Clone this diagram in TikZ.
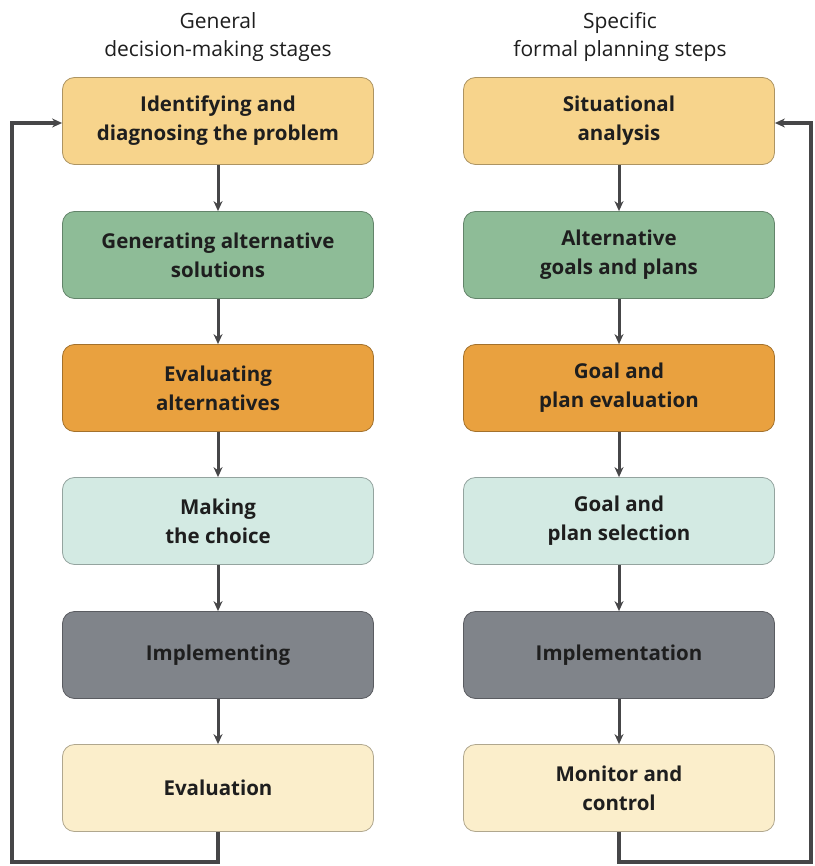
\documentclass[tikz,border=0pt]{standalone}
\usepackage{fontspec}
\setmainfont{Open Sans}
\usetikzlibrary{arrows.meta}
\definecolor{cyel}{HTML}{F7D48C}
\definecolor{cgrn}{HTML}{8EBC97}
\definecolor{corg}{HTML}{E9A13F}
\definecolor{ccyn}{HTML}{D3EAE3}
\definecolor{cgry}{HTML}{80848A}
\definecolor{ccrm}{HTML}{FBEECB}
\definecolor{cline}{HTML}{464648}
\definecolor{ctxt}{HTML}{1E1E1E}
\tikzset{
  stagebox/.style={draw=#1!70!black, fill=#1, line width=0.8pt, rounded corners=12pt,
    minimum width=311pt, minimum height=87pt, align=center, text=ctxt,
    font=\fontsize{20.5}{29}\selectfont\bfseries, inner sep=0pt},
  hdr/.style={align=center, text=ctxt, font=\fontsize{21}{28}\selectfont},
  flow/.style={draw=cline, line width=3pt, -{Stealth[length=10pt,width=9pt]}},
  fb/.style={draw=cline, line width=3.2pt, -{Stealth[length=10pt,width=9pt]}}
}
\begin{document}
\begin{tikzpicture}[x=1pt,y=-1pt]
\useasboundingbox[fill=white] (0,0) rectangle (814,866);
\node[hdr] (hl) at (218,37) {General\\decision-making stages};
\node[hdr] (hr) at (620,37) {Specific\\formal planning steps};

\node[stagebox=cyel] (l1) at (218,121) {Identifying and\\diagnosing the problem};
\node[stagebox=cgrn] (l2) at (218,255) {Generating alternative\\solutions};
\node[stagebox=corg] (l3) at (218,388) {Evaluating\\alternatives};
\node[stagebox=ccyn] (l4) at (218,521) {Making\\the choice};
\node[stagebox=cgry] (l5) at (218,655) {Implementing};
\node[stagebox=ccrm] (l6) at (218,788) {Evaluation};

\node[stagebox=cyel] (r1) at (619,121) {Situational\\analysis};
\node[stagebox=cgrn] (r2) at (619,255) {Alternative\\goals and plans};
\node[stagebox=corg] (r3) at (619,388) {Goal and\\plan evaluation};
\node[stagebox=ccyn] (r4) at (619,521) {Goal and\\plan selection};
\node[stagebox=cgry] (r5) at (619,655) {Implementation};
\node[stagebox=ccrm] (r6) at (619,788) {Monitor and\\control};

\foreach \a/\b in {l1/l2,l2/l3,l3/l4,l4/l5,l5/l6,r1/r2,r2/r3,r3/r4,r4/r5,r5/r6}
  \draw[flow] (\a.south) -- (\b.north);

\coordinate (lb) at (218,862);
\coordinate (lc) at (12,862);
\coordinate (lt) at (12,123);
\draw[fb] (l6.south) -- (lb) -- (lc) -- (lt) -- (l1.west |- lt);

\coordinate (rb) at (619,862);
\coordinate (rc) at (811,862);
\coordinate (rt) at (811,123);
\draw[fb] (r6.south) -- (rb) -- (rc) -- (rt) -- (r1.east |- rt);
\end{tikzpicture}
\end{document}
